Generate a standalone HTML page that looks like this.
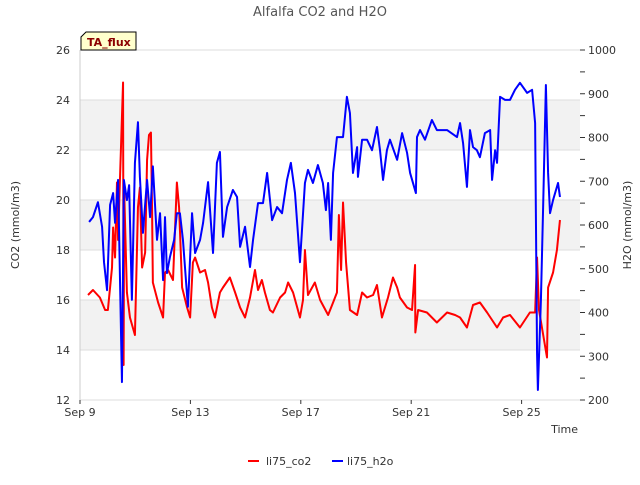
<!DOCTYPE html>
<html><head><meta charset="utf-8"><style>
body{margin:0;background:#fff;font-family:"Liberation Sans","DejaVu Sans",sans-serif}
svg text{font-family:"DejaVu Sans","Liberation Sans",sans-serif}
</style></head><body>
<svg width="640" height="480" xmlns="http://www.w3.org/2000/svg">
<g id="bands"></g>
<g id="axes"></g>
<g id="series"></g>
<text x="320" y="16" text-anchor="middle" font-size="13" fill="#555">Alfalfa CO2 and H2O</text>
<text transform="translate(19,225) rotate(-90)" text-anchor="middle" font-size="11" fill="#333">CO2 (mmol/m3)</text>
<text transform="translate(631,225) rotate(-90)" text-anchor="middle" font-size="11" fill="#333">H2O (mmol/m3)</text>
<text x="578" y="433" text-anchor="end" font-size="11" fill="#333">Time</text>
<g>
<path d="M86,32 L136,32 L136,50 L81,50 L81,37 Z" fill="#ffffcc" stroke="#000" stroke-width="1"/>
<text x="87" y="46" font-size="11" font-weight="bold" fill="#8b0000">TA_flux</text>
</g>
<g>
<line x1="248" y1="461" x2="259" y2="461" stroke="#f00" stroke-width="2"/>
<text x="266" y="465" font-size="11" fill="#333">li75_co2</text>
<line x1="332" y1="461" x2="343" y2="461" stroke="#00f" stroke-width="2"/>
<text x="347" y="465" font-size="11" fill="#333">li75_h2o</text>
</g>
</svg>
<script>
const co2Days=[9.29,9.47,9.72,9.91,10.01,10.16,10.20,10.27,10.34,10.38,10.45,10.56,10.58,10.60,10.70,10.81,10.99,11.10,11.17,11.25,11.36,11.43,11.50,11.57,11.61,11.64,11.83,12.01,12.08,12.19,12.37,12.51,12.59,12.70,12.88,12.99,13.09,13.17,13.35,13.53,13.64,13.78,13.89,14.07,14.18,14.43,14.62,14.80,14.98,15.16,15.34,15.45,15.59,15.70,15.88,15.99,16.25,16.43,16.54,16.72,16.97,17.08,17.15,17.26,17.51,17.70,17.99,18.17,18.31,18.38,18.46,18.53,18.64,18.78,19.04,19.22,19.40,19.62,19.76,19.94,20.16,20.34,20.49,20.59,20.85,21.03,21.14,21.15,21.25,21.57,21.93,22.30,22.59,22.77,23.02,23.24,23.49,23.75,24.11,24.33,24.58,24.94,25.30,25.49,25.56,25.63,25.92,25.96,26.14,26.28,26.39];
const co2Vals=[16.2,16.4,16.1,15.6,15.6,17.3,18.9,17.7,20.7,18.4,20.9,24.7,13.4,20.4,16.3,15.3,14.6,19.7,20.5,17.3,17.9,21.6,22.6,22.7,19.7,16.7,15.9,15.3,17.1,17.2,16.8,20.7,19.7,16.5,15.7,15.3,17.5,17.7,17.1,17.2,16.7,15.7,15.3,16.3,16.5,16.9,16.3,15.7,15.3,16.1,17.2,16.4,16.8,16.3,15.6,15.5,16.1,16.3,16.7,16.3,15.3,16.0,18.0,16.2,16.7,16.0,15.4,15.9,16.3,19.4,17.2,19.9,17.5,15.6,15.4,16.3,16.1,16.2,16.6,15.3,16.1,16.9,16.5,16.1,15.7,15.6,17.4,14.7,15.6,15.5,15.1,15.5,15.4,15.3,14.9,15.8,15.9,15.5,14.9,15.3,15.4,14.9,15.5,15.5,17.7,15.6,13.7,16.5,17.1,18.0,19.2];
const h2oDays=[9.33,9.47,9.65,9.80,9.87,9.98,10.09,10.20,10.27,10.38,10.52,10.59,10.70,10.78,10.88,10.99,11.10,11.17,11.28,11.43,11.54,11.64,11.79,11.90,12.01,12.08,12.15,12.26,12.41,12.51,12.62,12.73,12.91,13.06,13.17,13.35,13.46,13.64,13.82,13.96,14.07,14.18,14.33,14.54,14.69,14.80,14.98,15.16,15.27,15.45,15.63,15.78,15.96,16.14,16.32,16.50,16.64,16.79,16.97,17.15,17.26,17.44,17.62,17.80,17.91,17.99,18.09,18.17,18.31,18.42,18.53,18.67,18.78,18.89,19.04,19.07,19.22,19.40,19.58,19.76,19.87,19.98,20.12,20.23,20.49,20.67,20.85,20.96,21.17,21.21,21.32,21.50,21.75,21.93,22.30,22.66,22.77,22.88,23.02,23.13,23.24,23.38,23.49,23.67,23.86,23.93,24.04,24.11,24.22,24.40,24.58,24.76,24.94,25.20,25.38,25.49,25.56,25.59,25.70,25.78,25.88,25.96,26.03,26.14,26.32,26.39];
const h2oVals=[607,618,652,596,515,451,646,673,605,703,241,703,657,691,429,742,835,710,582,703,618,734,566,627,474,618,490,527,566,627,627,566,413,627,536,566,605,698,536,742,767,573,641,680,664,550,596,504,566,650,650,719,611,641,627,703,742,673,515,696,726,696,737,696,634,696,566,719,801,801,801,893,856,719,778,710,795,795,771,824,771,703,771,795,749,810,765,719,673,801,817,795,840,817,817,801,833,787,687,817,778,771,755,810,817,703,771,742,893,886,886,909,925,902,909,833,307,223,429,641,920,719,627,657,696,664];
const xTickDays=[9,13,17,21,25];
const xTickLabels=["Sep 9","Sep 13","Sep 17","Sep 21","Sep 25"];
const leftTicks=[12,14,16,18,20,22,24,26];
const rightTicks=[200,300,400,500,600,700,800,900,1000];

const NS="http://www.w3.org/2000/svg";
const L=80,R=580,T=50,B=400;
const xS=d=>L+(d-9)*27.6;
const yL=v=>B-(v-12)*(B-T)/14;
const yR=v=>B-(v-200)*(B-T)/800;
function mk(tag,attrs,parent,txt){const e=document.createElementNS(NS,tag);for(const k in attrs)e.setAttribute(k,attrs[k]);if(txt!==undefined)e.textContent=txt;parent.appendChild(e);return e;}
const bands=document.getElementById('bands'),axes=document.getElementById('axes'),series=document.getElementById('series');
for(let v=14;v<26;v+=4){
 const r=mk('rect',{x:L,y:yL(v+2),width:R-L,height:yL(v)-yL(v+2),fill:'#f2f2f2'},bands);
 
 
}
leftTicks.forEach(v=>{
 const g=mk('line',{x1:L,x2:R,y1:yL(v),y2:yL(v),stroke:'#ddd','stroke-width':1},axes);
 
 
 const t=mk('text',{x:L-10,y:yL(v)+4,'text-anchor':'end','font-size':11,fill:'#333'},axes,String(v));
 
 
});
for(let v=200;v<=1000;v+=50){
 const tk=mk('line',{x1:R,x2:R+5,y1:yR(v),y2:yR(v),stroke:'#333','stroke-width':1},axes);
 
 
}
rightTicks.forEach(v=>{
 const t=mk('text',{x:R+8,y:yR(v)+4,'font-size':11,fill:'#333'},axes,String(v));
 
 
});
const la=mk('line',{x1:L,x2:L,y1:T,y2:B,stroke:'#ccc'},axes);


const ba=mk('line',{x1:L,x2:R,y1:B,y2:B,stroke:'#ddd'},axes);


xTickDays.forEach((d,i)=>{
 const tk=mk('line',{x1:xS(d),x2:xS(d),y1:B,y2:B+4,stroke:'#333'},axes);
 
 
 const t=mk('text',{x:xS(d),y:B+16,'text-anchor':'middle','font-size':11,fill:'#333'},axes,xTickLabels[i]);
 
 
});
const co2=mk('polyline',{points:co2Days.map((d,i)=>xS(d)+','+yL(co2Vals[i])).join(' '),fill:'none',stroke:'#f00','stroke-width':2,'stroke-linejoin':'round'},series);


const h2o=mk('polyline',{points:h2oDays.map((d,i)=>xS(d)+','+yR(h2oVals[i])).join(' '),fill:'none',stroke:'#00f','stroke-width':2,'stroke-linejoin':'round'},series);


</script>
</body></html>
